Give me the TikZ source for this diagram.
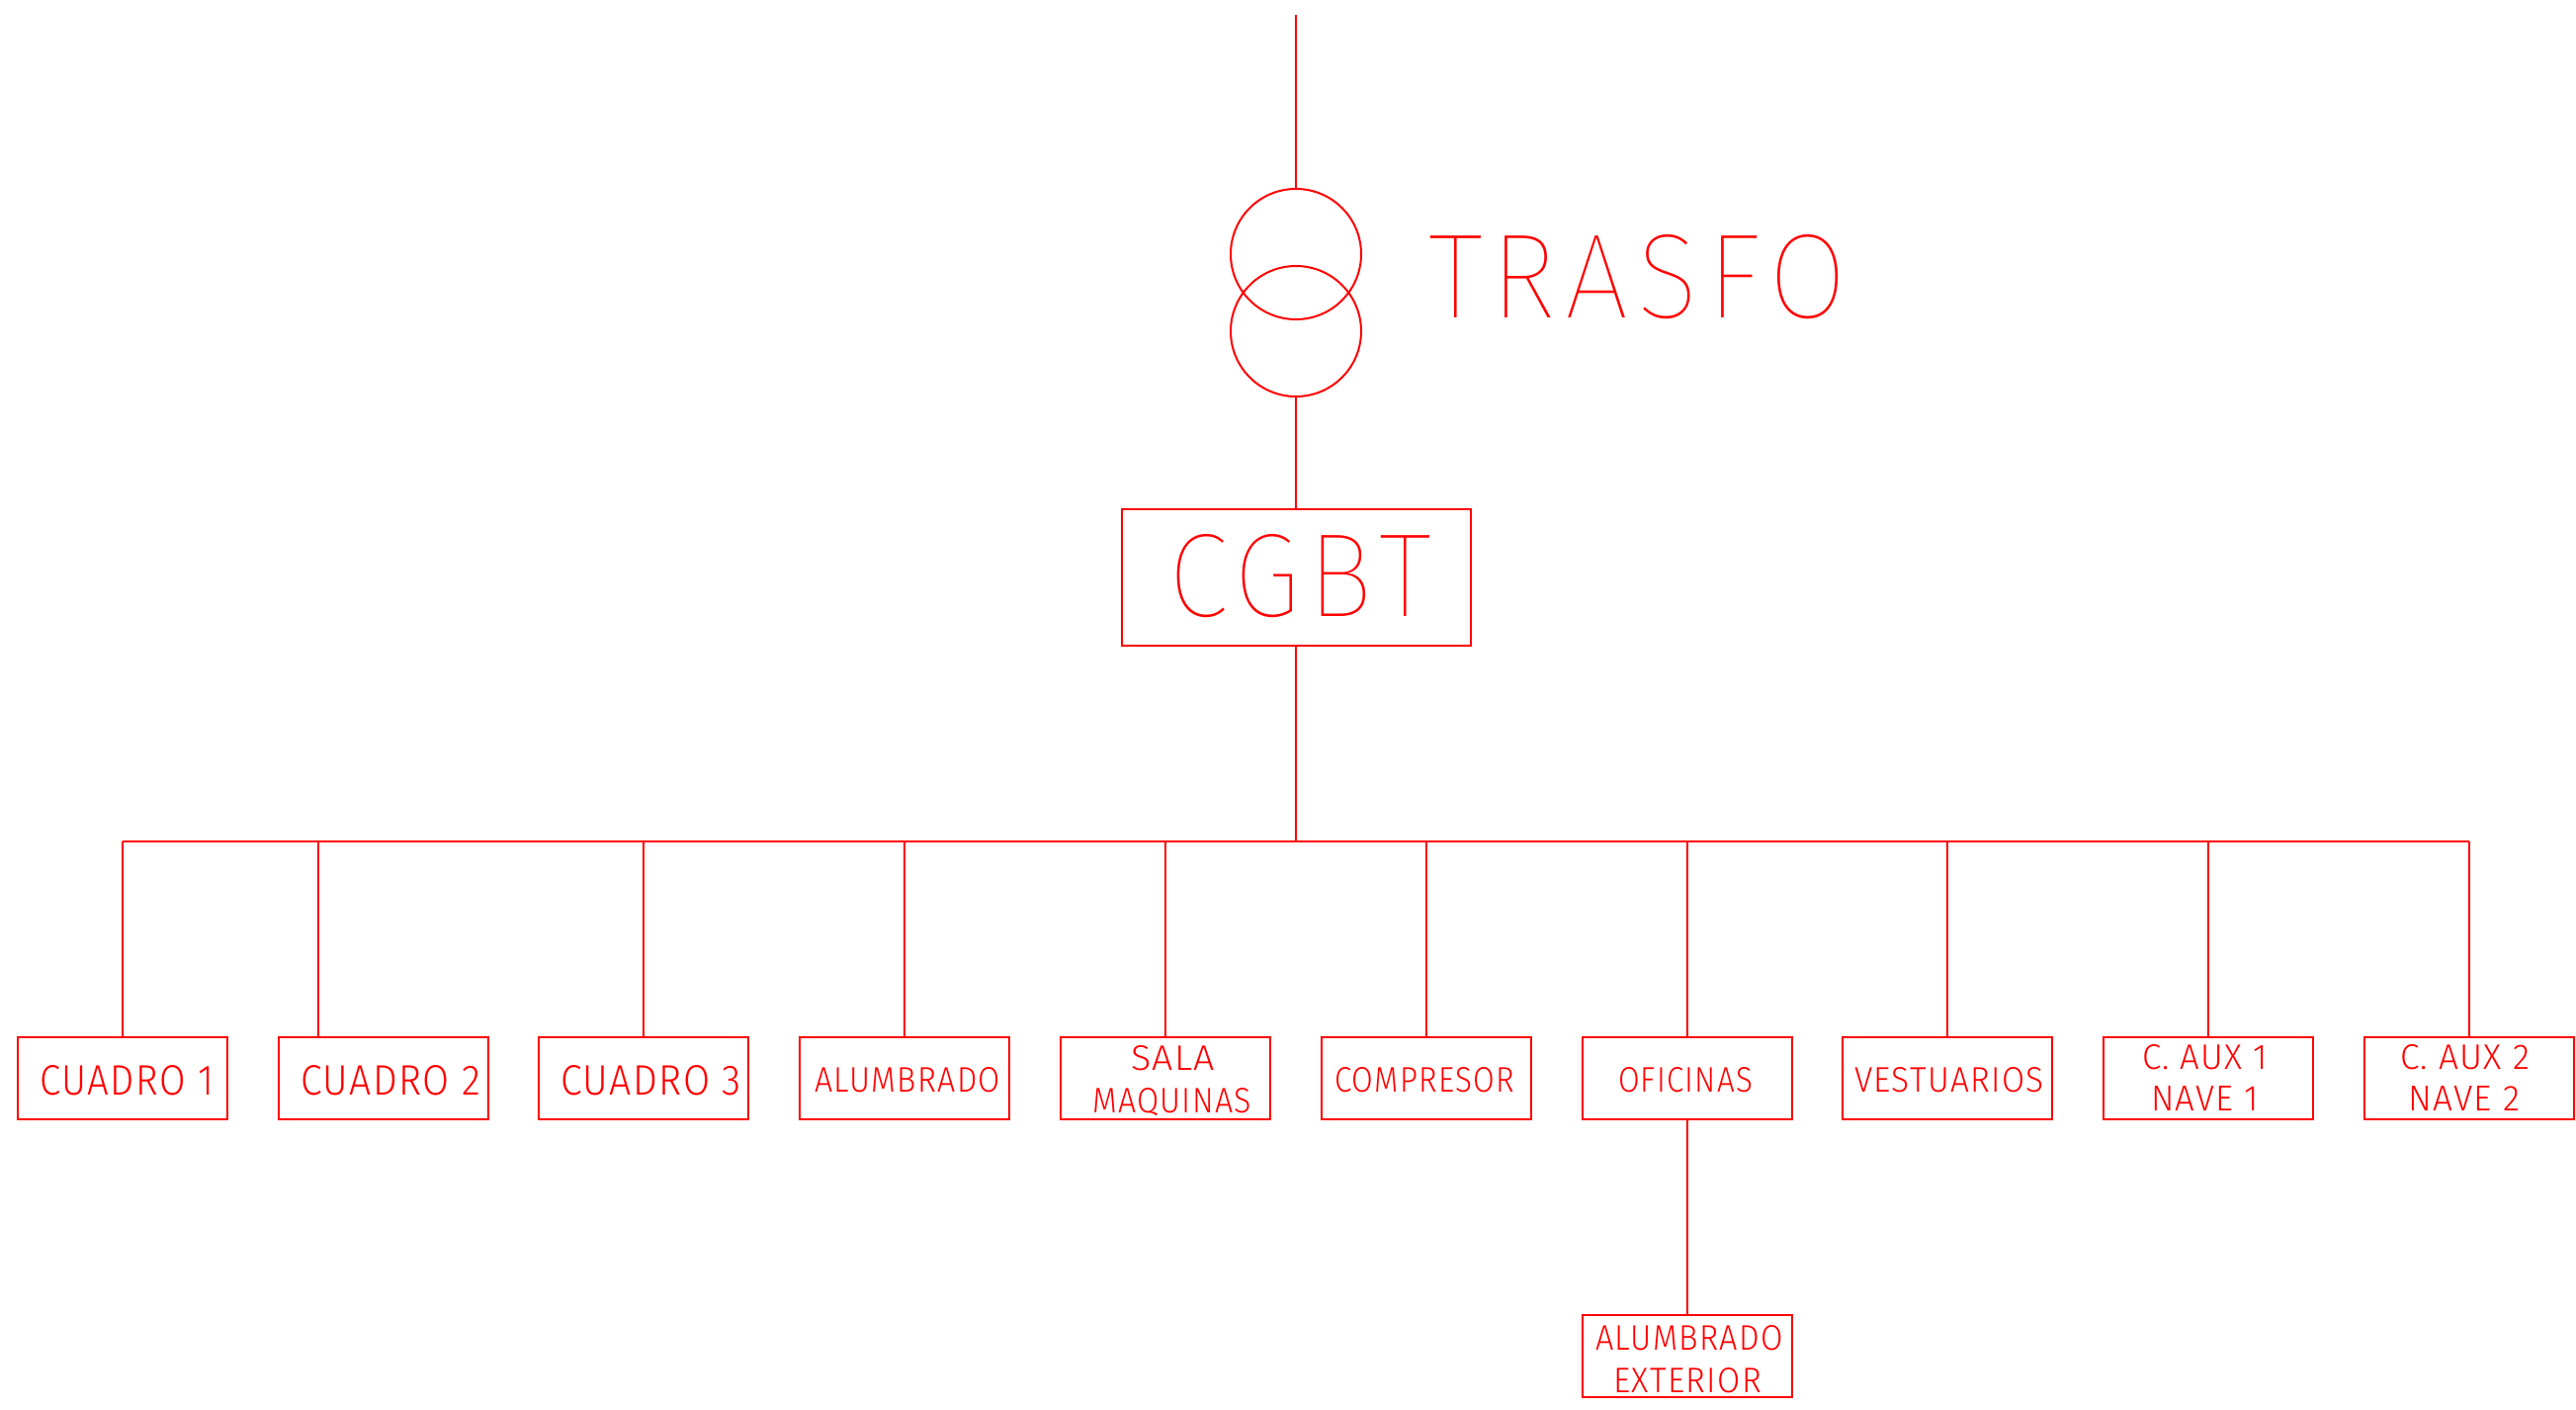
\documentclass[tikz,border=0pt]{standalone}
\usepackage{fontspec}
\usepackage{graphicx}
\setmainfont{Fira Sans Light}
\newfontfamily\thinf[LetterSpace=8]{Fira Sans Thin}
\newfontfamily\smallf[LetterSpace=4]{Fira Sans Light}
\definecolor{cad}{HTML}{FF0000}
\tikzset{
  wire/.style={draw=cad,line width=2pt},
  boxn/.style={draw=cad,line width=2pt,rectangle,inner sep=0pt,outer sep=0pt,minimum width=212pt,minimum height=83pt},
  bigbox/.style={draw=cad,line width=2pt,rectangle,inner sep=0pt,outer sep=0pt,minimum width=353pt,minimum height=138pt},
  coil/.style={draw=cad,line width=2pt,circle,inner sep=0pt,outer sep=0pt,minimum size=132pt},
  lbl/.style={text=cad,inner sep=0pt,outer sep=0pt,anchor=base west}
}
% name, left x, baseline y, width, cap height, text
\newcommand{\txt}[6]{\node[lbl] (#1) at (#2,#3) {\resizebox{#4pt}{#5pt}{\smallf #6}};}
\newcommand{\bigtxt}[6]{\node[lbl] (#1) at (#2,#3) {\resizebox{#4pt}{#5pt}{\thinf #6}};}
\begin{document}
\begin{tikzpicture}[x=1pt,y=-1pt]
\useasboundingbox (0,0) rectangle (2606,1426);
% nodes
\coordinate (top) at (1311,15);
\node[coil] (t1) at (1311,257) {};
\node[coil] (t2) at (1311,335) {};
\node[bigbox] (cgbt) at (1311,584) {};
\coordinate (bus) at (1311,851);
\node[boxn] (c1) at (124,1090.5) {};
\node[boxn] (c2) at (388,1090.5) {};
\node[boxn] (c3) at (651,1090.5) {};
\node[boxn] (alu) at (915,1090.5) {};
\node[boxn] (sala) at (1179,1090.5) {};
\node[boxn] (comp) at (1443,1090.5) {};
\node[boxn] (ofi) at (1707,1090.5) {};
\node[boxn] (ves) at (1970,1090.5) {};
\node[boxn] (n1) at (2234,1090.5) {};
\node[boxn] (n2) at (2498,1090.5) {};
\node[boxn] (ext) at (1707,1371.5) {};
\coordinate (c2drop) at (322,1049);
% connectors
\draw[wire] (top) -- (t1.north);
\draw[wire] (t2.south) -- (cgbt.north);
\draw[wire] (cgbt.south) -- (bus);
\draw[wire] (c1.north |- bus) -- (n2.north |- bus);
\foreach \b in {c1,c3,alu,sala,comp,ofi,ves,n1,n2}
  \draw[wire] (\b.north |- bus) -- (\b.north);
\draw[wire] (c2drop |- bus) -- (c2drop);
\draw[wire] (ofi.south) -- (ext.north);
% labels
\bigtxt{ltrasfo}{1445}{321}{423}{84}{TRASFO}
\bigtxt{lcgbt}{1182}{623}{266}{83}{CGBT}
\txt{lc1}{40}{1107}{176}{30}{CUADRO 1}
\txt{lc2}{304}{1107}{182}{30}{CUADRO 2}
\txt{lc3}{567}{1107}{183}{30}{CUADRO 3}
\txt{lalu}{824}{1104}{188}{25}{ALUMBRADO}
\txt{lsala}{1144}{1082}{85}{25}{SALA}
\txt{lmaq}{1105}{1125}{161}{25}{MAQUINAS}
\txt{lcomp}{1350}{1104}{182}{25}{COMPRESOR}
\txt{lofi}{1637}{1104}{136}{25}{OFICINAS}
\txt{lves}{1876}{1104}{192}{25}{VESTUARIOS}
\txt{laux1}{2167}{1081}{127}{25}{C. AUX 1}
\txt{lnav1}{2176}{1123}{109}{25}{NAVE 1}
\txt{laux2}{2428}{1081}{131}{25}{C. AUX 2}
\txt{lnav2}{2436}{1123}{113}{25}{NAVE 2}
\txt{lalue}{1614}{1365}{190}{25}{ALUMBRADO}
\txt{lext}{1632}{1408}{150}{25}{EXTERIOR}
\end{tikzpicture}
\end{document}
